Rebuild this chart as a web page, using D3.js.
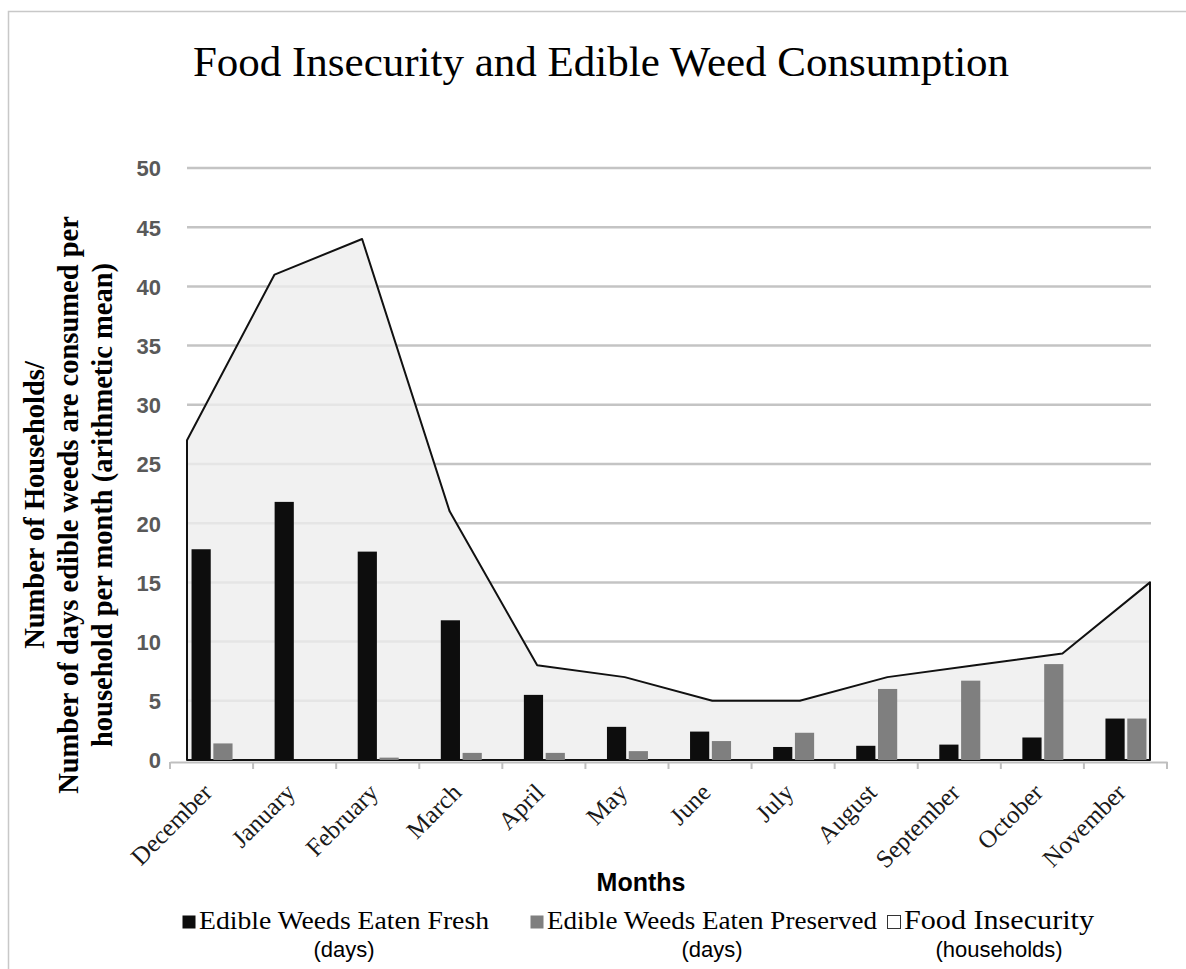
<!DOCTYPE html>
<html>
<head>
<meta charset="utf-8">
<script src="https://cdn.jsdelivr.net/npm/d3@7"></script>
<style>
  body { margin: 0; background: #fff; }
  svg { display: block; }
</style>
</head>
<body>
<div id="chart"></div>
<script>
// chart data
const months = ["December", "January", "February", "March", "April", "May",
                "June", "July", "August", "September", "October", "November"];
const eatenFresh = [17.8, 21.8, 17.6, 11.8, 5.5, 2.8, 2.4, 1.1, 1.2, 1.3, 1.9, 3.5];
const eatenPreserved = [1.4, 0, 0.2, 0.6, 0.6, 0.75, 1.6, 2.3, 6.0, 6.7, 8.1, 3.5];
const foodInsecurity = [27, 41, 44, 21, 8, 7, 5, 5, 7, 8, 9, 15];
const yTicks = [0, 5, 10, 15, 20, 25, 30, 35, 40, 45, 50];

const width = 1186, height = 969;
const serif = "'Liberation Serif', 'Times New Roman', serif";
const sans = "'Liberation Sans', Arial, sans-serif";

const svg = d3.select("#chart")
    .append("svg")
    .attr("width", width)
    .attr("height", height);

// outer frame (only left and top edges show)
svg.append("rect")
    .attr("x", 8.5).attr("y", 11.5)
    .attr("width", width + 20).attr("height", height + 20)
    .attr("fill", "none")
    .attr("stroke", "#c8c8c8")
    .attr("stroke-width", 1.5);

svg.append("text")
    .attr("x", 601).attr("y", 76)
    .attr("text-anchor", "middle")
    .style("font-family", serif)
    .style("font-size", "43px")
    .text("Food Insecurity and Edible Weed Consumption");

// scales
const yScale = d3.scaleLinear().domain([0, 50]).range([760, 168]);
const xBand = d3.scaleBand().domain(months).range([170, 1167]);
const xPoint = d3.scalePoint().domain(months).range([187, 1150]);
const xInner = d3.scaleBand().domain(["fresh", "preserved"]).range([-20, 21]).paddingInner(0.12);

// gridlines
svg.append("g")
    .selectAll("line")
    .data(yTicks.filter(d => d > 0))
    .join("line")
    .attr("x1", 187).attr("x2", 1151)
    .attr("y1", d => yScale(d)).attr("y2", d => yScale(d))
    .attr("stroke", "#c4c4c4")
    .attr("stroke-width", 2.5);

// food insecurity area
const area = d3.area()
    .x((d, i) => xPoint(months[i]))
    .y0(yScale(0))
    .y1(d => yScale(d));

svg.append("path")
    .datum(foodInsecurity)
    .attr("d", area)
    .attr("fill", "#eeeeee")
    .attr("fill-opacity", 0.8)
    .attr("stroke", "#111")
    .attr("stroke-width", 2)
    .attr("stroke-linejoin", "round");

// bars
const barData = months.map((m, i) => [
    { m: m, key: "fresh", v: eatenFresh[i] },
    { m: m, key: "preserved", v: eatenPreserved[i] }
]).flat();

svg.append("g")
    .selectAll("rect")
    .data(barData.filter(d => d.v > 0))
    .join("rect")
    .attr("x", d => xBand(d.m) + xBand.bandwidth() / 2 + xInner(d.key))
    .attr("width", xInner.bandwidth())
    .attr("y", d => yScale(d.v))
    .attr("height", d => yScale(0) - yScale(d.v))
    .attr("fill", d => d.key === "fresh" ? "#0d0d0d" : "#7f7f7f");

// x axis
const xAxis = d3.axisBottom(xBand).tickSize(0).tickFormat("");
const xg = svg.append("g")
    .attr("transform", "translate(0,762)")
    .call(xAxis);
xg.select(".domain").attr("stroke", "#bfbfbf").attr("stroke-width", 2);
xg.selectAll(".edge")
    .data(months.concat([null]))
    .join("line")
    .attr("class", "edge")
    .attr("x1", (d, i) => 170 + i * xBand.step())
    .attr("x2", (d, i) => 170 + i * xBand.step())
    .attr("y1", 0).attr("y2", 7)
    .attr("stroke", "#bfbfbf")
    .attr("stroke-width", 2);

svg.append("g")
    .selectAll("text")
    .data(months)
    .join("text")
    .attr("transform", d => `translate(${xBand(d) + xBand.bandwidth() / 2 + 2},${794}) rotate(-45)`)
    .attr("text-anchor", "end")
    .style("font-family", serif)
    .style("font-size", "25px")
    .style("fill", "#1a1a1a")
    .text(d => d);

// y axis labels
const yAxis = d3.axisLeft(yScale).tickValues(yTicks).tickSize(0).tickPadding(0);
const yg = svg.append("g")
    .attr("transform", "translate(161,0)")
    .call(yAxis);
yg.select(".domain").remove();
yg.selectAll("text")
    .attr("dy", "0.36em")
    .style("font-family", sans)
    .style("font-weight", "bold")
    .style("font-size", "22px")
    .style("fill", "#595959");

// y axis title
const yTitle = ["Number of Households/",
                "Number of days edible weeds are consumed per",
                "household per month (arithmetic mean)"];
svg.append("text")
    .attr("transform", "translate(0,505) rotate(-90)")
    .attr("text-anchor", "middle")
    .style("font-family", serif)
    .style("font-weight", "bold")
    .style("font-size", "28.5px")
    .selectAll("tspan")
    .data(yTitle)
    .join("tspan")
    .attr("x", 0)
    .attr("y", (d, i) => 44 + i * 34)
    .text(d => d);

svg.append("text")
    .attr("x", 641).attr("y", 891)
    .attr("text-anchor", "middle")
    .style("font-family", sans)
    .style("font-weight", "bold")
    .style("font-size", "25px")
    .text("Months");

// legend
const legend = [
    { name: "Edible Weeds Eaten Fresh", unit: "(days)", fill: "#0d0d0d", stroke: "none", x: 182, len: 290 },
    { name: "Edible Weeds Eaten Preserved", unit: "(days)", fill: "#7f7f7f", stroke: "none", x: 530, len: 330 },
    { name: "Food Insecurity", unit: "(households)", fill: "#fff", stroke: "#333", x: 887, len: 190 }
];
const lg = svg.append("g").selectAll("g")
    .data(legend)
    .join("g")
    .attr("transform", d => `translate(${d.x},0)`);
lg.append("rect")
    .attr("x", 0.5).attr("y", 915.5)
    .attr("width", 13).attr("height", 13)
    .attr("fill", d => d.fill)
    .attr("stroke", d => d.stroke);
lg.append("text")
    .attr("x", 17).attr("y", 929)
    .attr("textLength", d => d.len)
    .attr("lengthAdjust", "spacingAndGlyphs")
    .style("font-family", serif)
    .style("font-size", d => d.len < 200 ? "28px" : "26px")
    .text(d => d.name);
lg.append("text")
    .attr("x", d => 17 + d.len / 2).attr("y", 957)
    .attr("text-anchor", "middle")
    .style("font-family", sans)
    .style("font-size", "22px")
    .text(d => d.unit);
</script>
</body>
</html>
